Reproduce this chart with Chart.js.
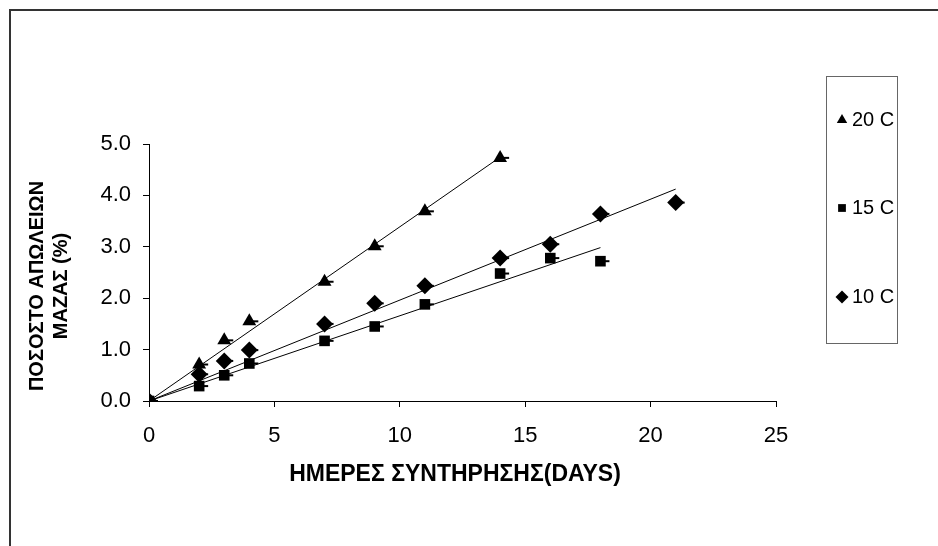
<!doctype html>
<html>

<head>
	<title>Mass loss vs storage days</title>
	<script src="https://cdn.jsdelivr.net/npm/chart.js@4"></script>
	<style>
		body { margin: 0; background: #fff; }
	</style>
</head>

<body>
	<canvas id="chart-area" width="938" height="546"></canvas>

	<script>
		const seriesLabels = ['20 C', '15 C', '10 C'];
		const pointStyles = ['triangle', 'rect', 'rectRot'];
		const pointSizes = [8, 7.5, 8.5];

		const days20 = [0, 2, 3, 4, 7, 9, 11, 14];
		const loss20 = [0, 0.71, 1.18, 1.55, 2.32, 3.01, 3.69, 4.73];
		const days15 = [0, 2, 3, 4, 7, 9, 11, 14, 16, 18];
		const loss15 = [0, 0.29, 0.50, 0.73, 1.17, 1.45, 1.88, 2.48, 2.78, 2.72];
		const days10 = [0, 2, 3, 4, 7, 9, 11, 14, 16, 18, 21];
		const loss10 = [0, 0.52, 0.78, 0.99, 1.50, 1.90, 2.24, 2.78, 3.05, 3.64, 3.86];

		const xTitle = 'ΗΜΕΡΕΣ ΣΥΝΤΗΡΗΣΗΣ(DAYS)';
		const yTitle = ['ΠΟΣΟΣΤΟ ΑΠΩΛΕΙΩΝ', 'ΜΑΖΑΣ (%)'];

		const FONT = "'Liberation Sans', Arial, sans-serif";

		function toPoints(xs, ys) {
			return xs.map((x, i) => ({ x: x, y: ys[i] }));
		}

		// linear trend forced through the origin (least squares)
		function trendLine(xs, ys) {
			let sxy = 0, sxx = 0;
			xs.forEach((x, i) => { sxy += x * ys[i]; sxx += x * x; });
			const k = sxy / sxx;
			const end = Math.max(...xs);
			return [{ x: 0, y: 0 }, { x: end, y: k * end }];
		}

		const series = [[days20, loss20], [days15, loss15], [days10, loss10]];

		const datasets = [];
		series.forEach(([xs, ys], i) => {
			datasets.push({
				type: 'scatter',
				label: seriesLabels[i],
				data: toPoints(xs, ys),
				pointStyle: pointStyles[i],
				pointRadius: pointSizes[i],
				backgroundColor: '#000',
				borderColor: '#000',
				borderWidth: 0
			});
			datasets.push({
				type: 'line',
				label: seriesLabels[i] + ' trend',
				data: trendLine(xs, ys),
				borderColor: '#000',
				borderWidth: 1,
				pointRadius: 0,
				fill: false
			});
		});

		const framePlugin = {
			id: 'frame',
			beforeDraw(chart) {
				const ctx = chart.ctx;
				ctx.save();
				ctx.fillStyle = '#fff';
				ctx.fillRect(0, 0, chart.width, chart.height);
				ctx.strokeStyle = '#333';
				ctx.lineWidth = 2;
				ctx.beginPath();
				ctx.moveTo(10, chart.height);
				ctx.lineTo(10, 10);
				ctx.lineTo(chart.width, 10);
				ctx.stroke();
				ctx.restore();
			}
		};

		// short x error bar to the right of each marker
		const errorTicks = {
			id: 'errorTicks',
			afterDatasetsDraw(chart) {
				const ctx = chart.ctx;
				ctx.save();
				ctx.strokeStyle = '#000';
				ctx.lineWidth = 2;
				chart.data.datasets.forEach((ds, i) => {
					if (ds.type !== 'scatter') return;
					chart.getDatasetMeta(i).data.forEach(pt => {
						ctx.beginPath();
						ctx.moveTo(pt.x, pt.y);
						ctx.lineTo(pt.x + 9, pt.y);
						ctx.stroke();
					});
				});
				ctx.restore();
			}
		};

		const axisTitles = {
			id: 'axisTitles',
			afterDraw(chart) {
				const ctx = chart.ctx;
				ctx.save();
				ctx.fillStyle = '#000';
				ctx.textAlign = 'center';
				ctx.textBaseline = 'middle';
				ctx.font = 'bold 23px ' + FONT;
				ctx.fillText(xTitle, 455, 475);
				ctx.translate(0, 286);
				ctx.rotate(-Math.PI / 2);
				ctx.font = 'bold 20px ' + FONT;
				ctx.fillText(yTitle[0], 0, 37);
				ctx.fillText(yTitle[1], 0, 61);
				ctx.restore();
			}
		};

		const legendBox = {
			id: 'legendBox',
			afterDraw(chart) {
				const ctx = chart.ctx;
				const rows = [120, 208, 297];
				ctx.save();
				ctx.strokeStyle = '#666';
				ctx.lineWidth = 1;
				ctx.strokeRect(826.5, 76.5, 71, 267);
				ctx.fillStyle = '#000';
				ctx.strokeStyle = '#000';
				ctx.font = '20px ' + FONT;
				ctx.textAlign = 'left';
				ctx.textBaseline = 'middle';
				seriesLabels.forEach((label, i) => {
					Chart.helpers.drawPoint(ctx, {
						pointStyle: pointStyles[i],
						radius: pointSizes[i] - 2,
						borderWidth: 0
					}, 842, rows[i]);
					ctx.fillText(label, 852, rows[i]);
				});
				ctx.restore();
			}
		};

		const axisStyle = {
			grid: {
				drawOnChartArea: false,
				drawTicks: true,
				tickLength: 6,
				color: '#000'
			},
			border: { color: '#000', width: 1 }
		};

		const ctx2d = document.getElementById('chart-area').getContext('2d');
		window.myChart = new Chart(ctx2d, {
			data: { datasets: datasets },
			options: {
				responsive: false,
				animation: false,
				layout: { padding: { top: 144, right: 162, bottom: 0, left: 0 } },
				plugins: {
					legend: { display: false },
					tooltip: { enabled: false }
				},
				scales: {
					x: Object.assign({
						type: 'linear',
						min: 0,
						max: 25,
						ticks: {
							stepSize: 5,
							color: '#000',
							padding: 16,
							font: { family: FONT, size: 22 },
							maxRotation: 0
						},
						afterFit(scale) { scale.height = 145; }
					}, axisStyle),
					y: Object.assign({
						type: 'linear',
						min: 0,
						max: 5,
						ticks: {
							stepSize: 1,
							color: '#000',
							padding: 12,
							font: { family: FONT, size: 22 },
							callback: v => v.toFixed(1)
						},
						afterFit(scale) { scale.width = 149; }
					}, axisStyle)
				}
			},
			plugins: [framePlugin, errorTicks, axisTitles, legendBox]
		});
	</script>
</body>
</html>
